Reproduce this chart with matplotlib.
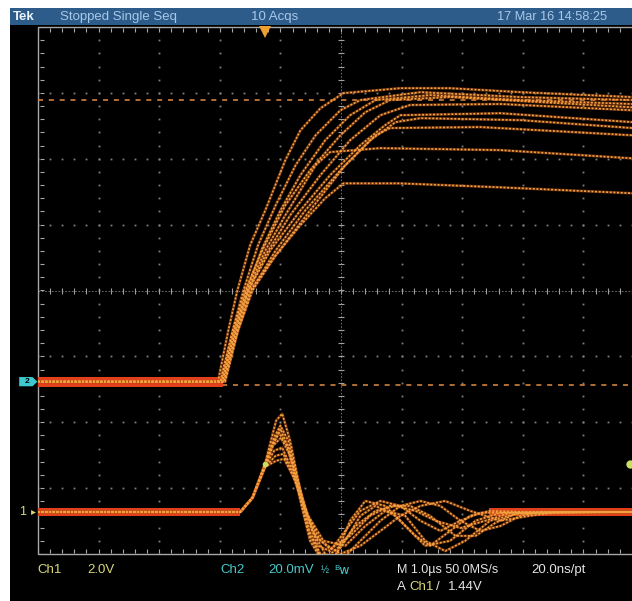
import numpy as np
import matplotlib.pyplot as plt
from matplotlib.patches import Rectangle, Polygon

plt.rcParams['font.family'] = ['Liberation Sans Narrow', 'Liberation Sans', 'DejaVu Sans']

W, H = 632, 601

# scope settings (1 us/div, trigger 3.75 div from the left edge)
T_LEFT, T_RIGHT = -3.75, 6.25
CH1_SCALE, CH1_POS = 2.0, -3.36     # V/div, ground position in div
CH2_SCALE, CH2_POS = 20.0, -1.384   # mV/div
TRIG_LEVEL = 1.44                   # V on Ch1
CURSORS_MV = [-1.0, 85.5]           # dashed level lines, Ch2 units
CH2_NOISE = 1.5                     # mV, half width of baseline band
CH1_NOISE = 0.13                    # V
CH2_BAND = [(-3.75, -0.70)]
CH1_BANDS = [(-3.75, -0.42), (3.70, 6.06)]

# Ch2 (upper trace), 10 acquisitions: time in us, level in mV
ch2_t = [
    [-3.75, -0.78, -0.61, -0.46, -0.25, 0.00, 0.33, 0.58, 0.91, 1.29, 2.23, 3.05, 4.21, 6.06],
    [-3.75, -0.74, -0.54, -0.36, -0.12, 0.17, 0.50, 0.83, 1.24, 1.57, 2.56, 4.21, 6.06],
    [-3.75, -0.71, -0.51, -0.31, -0.05, 0.25, 0.58, 0.99, 1.40, 1.82, 2.72, 4.21, 6.06],
    [-3.75, -0.74, -0.53, -0.33, -0.05, 0.33, 0.74, 1.24, 1.65, 2.06, 3.05, 6.06],
    [-3.75, -0.68, -0.48, -0.28, 0.00, 0.41, 0.91, 1.40, 1.90, 2.39, 3.88, 6.06],
    [-3.75, -0.71, -0.50, -0.28, 0.08, 0.58, 1.07, 1.57, 1.98, 2.23, 3.88, 6.06],
    [-3.75, -0.68, -0.46, -0.25, 0.17, 0.74, 1.32, 1.82, 2.06, 3.55, 6.06],
    [-3.75, -0.71, -0.50, -0.30, 0.00, 0.33, 0.58, 0.83, 1.07, 1.90, 3.88, 6.06],
    [-3.75, -0.68, -0.45, -0.21, 0.17, 0.58, 0.99, 1.29, 2.23, 3.88, 6.06],
    [-3.75, -0.66, -0.45, -0.23, 0.17, 0.66, 1.24, 1.73, 2.15, 2.56, 4.21, 6.06],
]
ch2_mv = [
    [0, 0, 15.5, 27.7, 41.4, 52.0, 67.2, 76.3, 83.0, 87.6, 89.1, 89.1, 87.9, 86.4],
    [0, 0, 15.5, 27.7, 41.4, 53.5, 65.7, 74.8, 82.4, 85.5, 87.9, 86.4, 85.5],
    [0, 0, 15.5, 27.7, 40.5, 52.0, 62.7, 73.3, 80.9, 85.5, 87.0, 85.5, 84.3],
    [0, 0, 15.5, 27.7, 39.8, 53.5, 64.2, 74.8, 81.8, 85.5, 86.4, 83.3],
    [0, 0, 15.5, 27.7, 38.3, 50.5, 62.7, 73.3, 80.9, 84.0, 84.3, 82.4],
    [0, 0, 15.5, 27.7, 39.8, 52.0, 62.7, 71.8, 77.9, 80.9, 81.5, 78.8],
    [0, 0, 15.5, 27.7, 38.3, 52.0, 65.7, 74.8, 77.0, 77.3, 74.8],
    [0, 0, 15.5, 27.7, 39.8, 50.5, 58.1, 65.7, 69.7, 70.9, 70.3, 67.8],
    [0, 0, 15.5, 27.7, 38.3, 47.5, 55.7, 60.2, 60.2, 59.0, 57.2],
    [0, 0, 15.5, 27.7, 39.8, 52.0, 64.2, 73.3, 78.8, 80.0, 79.4, 77.0],
]

# Ch1 (lower trace): time in us, level in V
ch1_t = [
    [-3.75, -0.41, -0.21, 0.00, 0.18, 0.28, 0.41, 0.58, 0.74, 0.91, 1.11, 1.32, 1.57, 1.82, 2.15, 2.48, 2.72, 3.05, 3.38, 3.71, 4.21, 6.06],
    [-3.75, -0.41, -0.21, 0.00, 0.15, 0.25, 0.38, 0.54, 0.71, 0.87, 1.07, 1.32, 1.57, 1.90, 2.23, 2.56, 2.89, 3.22, 3.55, 6.06],
    [-3.75, -0.41, -0.21, 0.00, 0.13, 0.26, 0.41, 0.58, 0.78, 0.99, 1.24, 1.57, 1.90, 2.23, 2.56, 2.89, 3.22, 3.55, 3.88, 4.21, 4.54, 6.06],
    [-3.75, -0.41, -0.21, 0.00, 0.15, 0.28, 0.45, 0.63, 0.83, 1.07, 1.40, 1.73, 2.06, 2.39, 2.72, 3.14, 3.47, 3.80, 4.13, 6.06],
    [-3.75, -0.41, -0.21, 0.00, 0.17, 0.30, 0.46, 0.66, 0.91, 1.24, 1.57, 1.90, 2.23, 2.56, 2.97, 3.38, 3.88, 4.37, 4.87, 6.06],
    [-3.75, -0.41, -0.21, 0.00, 0.18, 0.31, 0.50, 0.71, 0.96, 1.32, 1.65, 1.98, 2.31, 2.64, 2.97, 3.30, 3.71, 4.21, 6.06],
    [-3.75, -0.41, -0.21, 0.00, 0.12, 0.23, 0.36, 0.53, 0.69, 0.91, 1.16, 1.40, 1.65, 1.98, 2.31, 2.64, 3.05, 3.47, 3.88, 6.06],
    [-3.75, -0.41, -0.21, 0.00, 0.12, 0.25, 0.40, 0.56, 0.74, 0.94, 1.24, 1.49, 1.82, 2.15, 2.48, 2.81, 3.22, 3.63, 4.04, 6.06],
]
ch1_v = [
    [0, 0, 0.43, 1.49, 2.77, 2.98, 2.16, 0.64, -0.73, -1.34, -1.43, -0.88, -0.12, 0.18, -0.12, -0.73, -1.03, -0.58, -0.12, 0.03, 0, 0],
    [0, 0, 0.43, 1.43, 2.28, 2.62, 2.16, 0.94, -0.27, -1.03, -1.19, -0.58, 0.03, 0.33, 0.18, -0.27, -0.58, -0.27, -0.03, 0],
    [0, 0, 0.43, 1.40, 2.01, 2.25, 1.70, 0.64, -0.58, -1.28, -1.49, -0.88, -0.27, 0.18, 0.33, 0.18, -0.27, -0.58, -0.43, -0.12, 0, 0],
    [0, 0, 0.43, 1.40, 1.86, 1.95, 1.25, 0.18, -0.73, -1.13, -0.73, -0.12, 0.18, 0.18, -0.12, -0.73, -0.73, -0.33, -0.06, 0],
    [0, 0, 0.43, 1.37, 1.70, 1.76, 1.09, 0.03, -0.88, -1.28, -1.03, -0.58, -0.12, 0.18, 0.33, 0.03, -0.27, -0.12, 0, 0],
    [0, 0, 0.43, 1.37, 1.55, 1.61, 0.94, -0.12, -0.88, -1.03, -0.43, 0.03, -0.12, -0.88, -1.19, -0.88, -0.27, -0.03, 0],
    [0, 0, 0.43, 1.46, 2.01, 2.40, 2.01, 0.79, -0.43, -1.28, -1.34, -0.27, 0.33, 0.18, -0.43, -1.03, -0.88, -0.27, -0.03, 0],
    [0, 0, 0.43, 1.43, 2.04, 2.52, 1.86, 0.49, -0.88, -1.49, -1.03, -0.43, 0.03, 0.18, 0.03, -0.27, -0.49, -0.27, -0.03, 0],
]

ORANGE = '#f0a440'
GLOW = '#c8561c'
RED = '#e2401a'
GRID = '#808080'

fig = plt.figure(figsize=(W / 100, H / 100), dpi=100)
fig.patch.set_facecolor('white')
fig.patches.append(Rectangle((10 / W, 0), 1, 1 - 25 / H, transform=fig.transFigure,
                             facecolor='black', edgecolor='none', zorder=-2))
fig.patches.append(Rectangle((10 / W, 1 - 25 / H), 1, 17 / H, transform=fig.transFigure,
                             facecolor='#2e5c8a', edgecolor='none', zorder=-2))

ax = fig.add_axes([38 / W, 1 - 554 / H, 606 / W, 527 / H])
ax.set_facecolor('black')
ax.set_xlim(T_LEFT, T_RIGHT)
ax.set_ylim(-4, 4)
ax.axis('off')

# graticule
xs_div = T_LEFT + np.arange(0, 10.001, 0.2)
ys_div = np.arange(-4, 4.001, 0.2)
for i in range(1, 10):
    if i == 5:
        continue
    ax.plot(np.full_like(ys_div, T_LEFT + i), ys_div, ls='none', marker='s', ms=1.3,
            color=GRID, mew=0)
for j in range(-3, 4):
    if j == 0:
        continue
    ax.plot(xs_div, np.full_like(xs_div, j), ls='none', marker='s', ms=1.3, color=GRID, mew=0)

# center axes with ticks
xc = T_LEFT + 5
ax.plot([T_LEFT, T_RIGHT], [0, 0], color=GRID, lw=0.6, ls=(0, (2, 2)))
ax.plot([xc, xc], [-4, 4], color=GRID, lw=0.6, ls=(0, (2, 2)))
ax.plot(xs_div, np.zeros_like(xs_div), ls='none', marker='|', ms=5, color='#a0a0a0', mew=0.8)
ax.plot(np.full_like(ys_div, xc), ys_div, ls='none', marker='_', ms=5, color='#a0a0a0', mew=0.8)

# border with inner ticks
ax.plot([T_RIGHT + 1, T_LEFT, T_LEFT, T_RIGHT + 1], [4, 4, -4, -4], color='#a8a8a8', lw=1.0,
        clip_on=False)
ax.plot(xs_div, np.full_like(xs_div, 3.95), ls='none', marker='|', ms=3.5, color='#a8a8a8', mew=0.8)
ax.plot(xs_div, np.full_like(xs_div, -3.95), ls='none', marker='|', ms=3.5, color='#a8a8a8', mew=0.8)
ax.plot(np.full_like(ys_div, T_LEFT + 0.06), ys_div, ls='none', marker='_', ms=3.5,
        color='#a8a8a8', mew=0.8)

# dashed level lines
for lv in CURSORS_MV:
    y = lv / CH2_SCALE + CH2_POS
    ax.plot([T_LEFT, T_RIGHT], [y, y], color='#d0823e', lw=1.2, ls=(0, (3, 3.5)), zorder=2)

# baseline noise bands
for a, b in CH2_BAND:
    ax.fill_between([a, b], CH2_POS - CH2_NOISE / CH2_SCALE, CH2_POS + CH2_NOISE / CH2_SCALE,
                    color=RED, lw=0, zorder=3)
for a, b in CH1_BANDS:
    ax.fill_between([a, b], CH1_POS - CH1_NOISE / CH1_SCALE, CH1_POS + CH1_NOISE / CH1_SCALE,
                    color=RED, lw=0, zorder=3)

# traces
for t, v in zip(ch2_t, ch2_mv):
    y = np.array(v) / CH2_SCALE + CH2_POS
    ax.plot(t, y, color=GLOW, lw=2.0, alpha=0.5, zorder=4, solid_joinstyle='round')
    ax.plot(t, y, color=ORANGE, lw=1.2, ls=(0, (1.2, 1.0)), zorder=5)
for t, v in zip(ch1_t, ch1_v):
    y = np.array(v) / CH1_SCALE + CH1_POS
    ax.plot(t, y, color=GLOW, lw=2.0, alpha=0.5, zorder=4, solid_joinstyle='round')
    ax.plot(t, y, color=ORANGE, lw=1.2, ls=(0, (1.2, 1.0)), zorder=5)

# markers
trig_y = TRIG_LEVEL / CH1_SCALE + CH1_POS
ax.plot([0], [trig_y], marker='o', ms=4, color='#c8e060', mew=0, zorder=6)
ax.plot([6.02], [trig_y], marker='o', ms=6, color='#c8e060', mew=0, zorder=6, clip_on=False)
ax.plot([0], [3.93], marker='v', ms=9, color='#f0a030', mew=0, zorder=6, clip_on=False)
ax.add_patch(Polygon([[-4.06, CH2_POS + 0.07], [-3.84, CH2_POS + 0.07], [-3.76, CH2_POS],
                      [-3.84, CH2_POS - 0.07], [-4.06, CH2_POS - 0.07]],
                     closed=True, facecolor='#40c8d0', edgecolor='none', clip_on=False, zorder=6))
ax.text(-3.93, CH2_POS, '2', color='black', fontsize=6, ha='center', va='center',
        fontweight='bold', clip_on=False, zorder=7)
ax.text(-4.0, CH1_POS, '1', color='#d8d878', fontsize=9, ha='center', va='center', clip_on=False)
ax.plot([-3.84], [CH1_POS], marker='>', ms=3.5, color='#d8d878', mew=0, clip_on=False)

# header and readouts
def ftext(x, y, s, color, **kw):
    fig.text(x / W, 1 - y / H, s, color=color, fontsize=kw.pop('fontsize', 9.5),
             va='center', ha='left', **kw)

ftext(13, 17, 'Tek', '#e8f0f8', fontweight='bold')
ftext(60, 17, 'Stopped Single Seq', '#a8c8e8')
ftext(251, 17, '10 Acqs', '#a8c8e8')
ftext(497, 17, '17 Mar 16 14:58:25', '#a8c8e8', fontsize=9.2)

YEL = '#d8d878'
CYAN = '#48c8c8'
WHT = '#e4e4e4'
ftext(37, 570, 'Ch1', YEL)
ftext(87, 570, '2.0V', YEL)
ftext(220, 570, 'Ch2', CYAN)
ftext(268, 570, '20.0mV', CYAN)
ftext(321, 570, '½', CYAN, fontsize=7)
ftext(334, 570, 'ᴮw', CYAN, family=['DejaVu Sans'], fontsize=9)
ftext(397, 570, 'M 1.0µs 50.0MS/s', WHT, fontsize=9)
ftext(531, 570, '20.0ns/pt', WHT)
ftext(397, 587, 'A', WHT)
ftext(409, 587, 'Ch1', YEL)
ftext(436, 587, '/', WHT)
ftext(448, 587, '1.44V', WHT)

fig.savefig('out.png', dpi=100, facecolor=fig.get_facecolor())
